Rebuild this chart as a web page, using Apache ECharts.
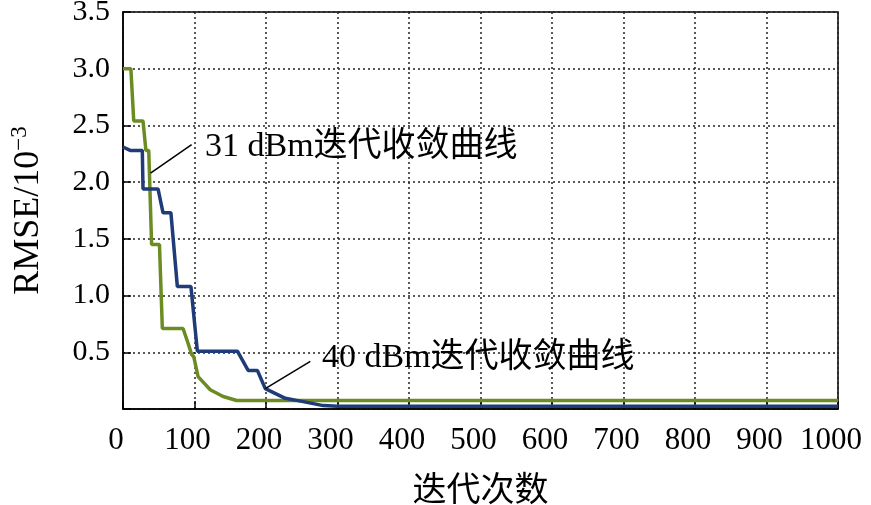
<!DOCTYPE html>
<html>
<head>
<meta charset="utf-8">
<script src="https://cdn.jsdelivr.net/npm/echarts@6/dist/echarts.min.js"></script>
<style>
  html, body { margin: 0; padding: 0; background: #fff; }
  #main { width: 871px; height: 505px; }
</style>
</head>
<body>
<div id="main"></div>
<script>
// 31 dBm 迭代收敛曲线 (绿)
var iter31 = [0, 11, 15, 28, 32, 36, 40, 51, 55, 84, 91, 96, 99, 105, 122, 140, 159, 1000];
var rmse31 = [3.0, 3.0, 2.54, 2.54, 2.28, 2.28, 1.45, 1.45, 0.71, 0.71, 0.58, 0.48, 0.46, 0.285, 0.17, 0.11, 0.075, 0.075];
// 40 dBm 迭代收敛曲线 (蓝)
var iter40 = [0, 10, 27, 28, 49, 56, 67, 76, 95, 104, 160, 175, 188, 199, 227, 252, 280, 300, 1000];
var rmse40 = [2.31, 2.28, 2.28, 1.94, 1.94, 1.73, 1.73, 1.08, 1.08, 0.51, 0.51, 0.34, 0.34, 0.18, 0.094, 0.065, 0.03, 0.025, 0.025];

var xTicks = [0, 1000, 100];
var yTicks = [0, 3.5, 0.5];

var serif = "'Liberation Serif', 'Times New Roman', 'Noto Sans CJK SC', serif";

function pairs(xs, ys) {
  var out = [];
  for (var i = 0; i < xs.length; i++) out.push([xs[i], ys[i]]);
  return out;
}

function getOption() {
  var gridLine = { show: true, lineStyle: { color: '#222', width: 1.5, type: [2, 3] } };
  var option = {
    animation: false,
    backgroundColor: '#fff',
    textStyle: { fontFamily: serif, color: '#000' },
    grid: {
      left: 123, right: 33, top: 12, bottom: 96,
      outerBoundsMode: 'none',
      containLabel: false,
      show: true, borderColor: '#000', borderWidth: 1.5
    },
    xAxis: {
      type: 'value',
      min: xTicks[0], max: xTicks[1], interval: xTicks[2],
      name: '迭代次数',
      nameLocation: 'middle',
      nameGap: 62,
      nameTextStyle: { fontSize: 34, fontFamily: serif, color: '#000', padding: [4, 0, 0, 0] },
      axisLine: { lineStyle: { color: '#000', width: 1.5 } },
      axisTick: { inside: true, length: 8, lineStyle: { color: '#000', width: 1.5 } },
      axisLabel: {
        fontSize: 31, fontFamily: serif, color: '#000', margin: 16, padding: [0, 14, 0, 0],
        formatter: function(v) { return String(v); }
      },
      splitLine: gridLine
    },
    yAxis: {
      type: 'value',
      min: yTicks[0], max: yTicks[1], interval: yTicks[2],
      name: 'RMSE/10{sup|−3}',
      nameLocation: 'middle',
      nameGap: 74,
      nameRotate: 90,
      nameTextStyle: {
        fontSize: 36, fontFamily: serif, color: '#000',
        rich: { sup: { fontSize: 23, fontFamily: serif, color: '#000', verticalAlign: 'top', padding: [0, 0, 18, 0] } }
      },
      axisLine: { lineStyle: { color: '#000', width: 1.5 } },
      axisTick: { inside: true, length: 8, lineStyle: { color: '#000', width: 1.5 } },
      axisLabel: {
        fontSize: 30, fontFamily: serif, color: '#000', margin: 13, padding: [6, 0, 0, 0],
        formatter: function(v) { return v === 0 ? '' : v.toFixed(1); }
      },
      splitLine: gridLine
    },
    series: [{
        name: '31 dBm',
        type: 'line',
        data: pairs(iter31, rmse31),
        showSymbol: false,
        lineStyle: { color: '#6b8c23', width: 3.5 },
        itemStyle: { color: '#6b8c23' },
        z: 3,
        markLine: {
          silent: true,
          symbol: 'none',
          label: { show: false },
          lineStyle: { color: '#000', width: 1.5, type: 'solid' },
          data: [[{ coord: [96, 2.33] }, { coord: [38.5, 2.08] }]]
        }
      },
      {
        name: '40 dBm',
        type: 'line',
        data: pairs(iter40, rmse40),
        showSymbol: false,
        lineStyle: { color: '#1f3b78', width: 3.5 },
        itemStyle: { color: '#1f3b78' },
        z: 4,
        markLine: {
          silent: true,
          symbol: 'none',
          label: { show: false },
          lineStyle: { color: '#000', width: 1.5, type: 'solid' },
          data: [[{ coord: [262, 0.42] }, { coord: [199, 0.18] }]]
        }
      }
    ],
    graphic: [{
        type: 'text', left: 205, top: 130, z: 10,
        style: { text: '31 dBm迭代收敛曲线', font: '34px ' + serif, fill: '#000' }
      },
      {
        type: 'text', left: 322, top: 341, z: 10,
        style: { text: '40 dBm迭代收敛曲线', font: '34px ' + serif, fill: '#000' }
      }
    ]
  };
  return option;
}

var chart = echarts.init(document.getElementById('main'), null, { renderer: 'canvas' });
chart.setOption(getOption());
</script>
</body>
</html>
